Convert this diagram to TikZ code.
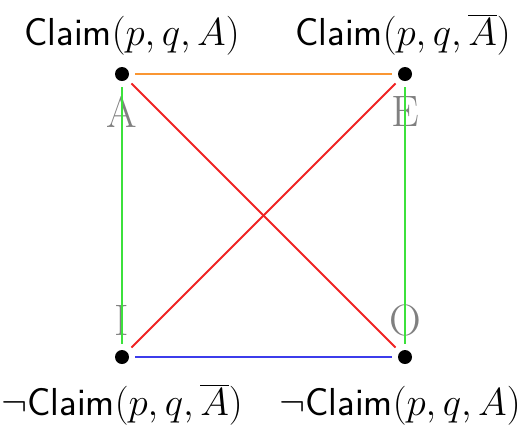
\RequirePackage{fix-cm}
\documentclass[tikz,border=0pt]{standalone}
\usetikzlibrary{positioning}

\definecolor{sqorange}{RGB}{250,150,50}
\definecolor{sqgreen}{RGB}{60,225,60}
\definecolor{sqblue}{RGB}{60,60,235}
\definecolor{sqred}{RGB}{240,35,35}

\begin{document}
\begin{tikzpicture}[x=0.5pt,y=-0.5pt,
    corner/.style={circle,fill=black,inner sep=0pt,minimum size=7pt},
    claim/.style={font=\fontsize{19.5}{24}\selectfont,anchor=base},
    vowel/.style={text=gray,font=\fontsize{22}{26}\selectfont\rmfamily},
    link/.style={line width=1pt,shorten >=3pt,shorten <=3pt}]
    \useasboundingbox (0,0) rectangle (525,425);
    % corners of the square
    \node[corner] (a) at (122,74) {};
    \node[corner] (e) at (405,74) {};
    \node[corner] (i) at (122,357) {};
    \node[corner] (o) at (405,357) {};
    % vowels
    \node[vowel] (va) at (122,112) {A};
    \node[vowel] (ve) at (405,112) {E};
    \node[vowel] (vi) at (122,320) {I};
    \node[vowel] (vo) at (405,320) {O};
    % claims
    \node[claim] (ca) at (132,45) {\textsf{Claim}$(p,q,A)$};
    \node[claim] (ce) at (403,45) {\textsf{Claim}$(p,q,\overline{A})$};
    \node[claim] (ci) at (122,415) {$\neg$\textsf{Claim}$(p,q,\overline{A})$};
    \node[claim] (co) at (400,415) {$\neg$\textsf{Claim}$(p,q,A)$};
    % relations
    \draw[link,sqorange] (a) -- (e);
    \draw[link,sqblue] (i) -- (o);
    \draw[link,sqgreen] (a) -- (i);
    \draw[link,sqgreen] (e) -- (o);
    \draw[link,sqred] (a) -- (o);
    \draw[link,sqred] (e) -- (i);
\end{tikzpicture}
\end{document}
